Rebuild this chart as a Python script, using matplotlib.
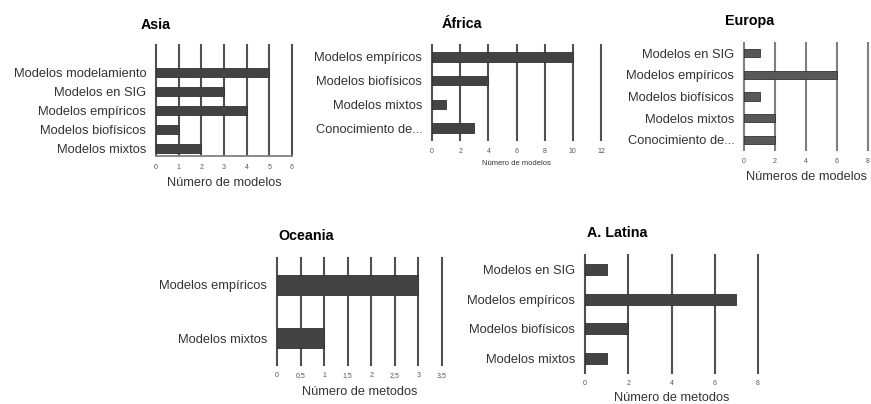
import matplotlib as mpl
import matplotlib.pyplot as plt

mpl.rcParams["font.family"] = ["Liberation Sans", "DejaVu Sans"]

# data
asia_cats = ["Modelos modelamiento", "Modelos en SIG", "Modelos empíricos",
             "Modelos biofísicos", "Modelos mixtos"]
asia_vals = [5, 3, 4, 1, 2]
asia_ticks = [0, 1, 2, 3, 4, 5, 6]

africa_cats = ["Modelos empíricos", "Modelos biofísicos", "Modelos mixtos",
               "Conocimiento de..."]
africa_vals = [10, 4, 1, 3]
africa_ticks = [0, 2, 4, 6, 8, 10, 12]

europa_cats = ["Modelos en SIG", "Modelos empíricos", "Modelos biofísicos",
               "Modelos mixtos", "Conocimiento de..."]
europa_vals = [1, 6, 1, 2, 2]
europa_ticks = [0, 2, 4, 6, 8]

oceania_cats = ["Modelos empíricos", "Modelos mixtos"]
oceania_vals = [3, 1]
oceania_ticks = [0, 0.5, 1, 1.5, 2, 2.5, 3, 3.5]
oceania_ticklabels = ["0", "0,5", "1", "1,5", "2", "2,5", "3", "3,5"]

latina_cats = ["Modelos en SIG", "Modelos empíricos", "Modelos biofísicos",
               "Modelos mixtos"]
latina_vals = [1, 7, 2, 1]
latina_ticks = [0, 2, 4, 6, 8]

W, H = 871, 404
fig = plt.figure(figsize=(W / 100, H / 100), dpi=100)


def panel(box, cats, vals, ticks, ylim, height, xlabel, title, title_xy,
          ticklabels=None, label_top=None, tick_pad=5, xlabel_size=9.2,
          grid_color="#505050", bar_color="#434343", bottom_line=False):
    left, top, right, bottom = box
    ax = fig.add_axes([left / W, 1 - bottom / H, (right - left) / W,
                       (bottom - top) / H])
    ax.barh(range(len(cats)), vals, height=height, color=bar_color,
            edgecolor="#333333", linewidth=0.6, zorder=3)
    ax.set_yticks(range(len(cats)))
    ax.set_yticklabels(cats, fontsize=9.3, color="#333333")
    ax.set_xticks(ticks)
    if ticklabels is not None:
        ax.set_xticklabels(ticklabels)
    ax.set_xlim(ticks[0], ticks[-1])
    ax.set_ylim(*ylim)
    ax.tick_params(axis="y", length=0, pad=7)
    ax.tick_params(axis="x", length=0, pad=tick_pad, labelsize=5,
                   labelcolor="#555555")
    ax.grid(axis="x", color=grid_color, linewidth=1.5, zorder=0)
    ax.set_axisbelow(True)
    # keep the edge gridlines full width
    for gl in ax.get_xgridlines():
        gl.set_clip_on(False)
    for s in ax.spines.values():
        s.set_visible(False)
    if bottom_line:
        ax.spines["bottom"].set_visible(True)
        ax.spines["bottom"].set_color("#8a8a8a")
        ax.spines["bottom"].set_linewidth(1.4)
    ax.set_xlabel(xlabel, fontsize=xlabel_size, color="#333333")
    ax.xaxis.set_label_coords(0.5, -(label_top - bottom) / (bottom - top))
    fig.text(title_xy[0] / W, 1 - title_xy[1] / H, title, ha="center",
             va="center", fontsize=10.3, fontweight="bold")
    return ax


panel((156, 45, 292, 156), asia_cats, asia_vals, asia_ticks,
      (4.42, -1.47), 0.47, "Número de modelos", "Asia", (156, 25),
      label_top=177, tick_pad=6, bottom_line=True)

panel((432, 45, 601, 140), africa_cats, africa_vals, africa_ticks,
      (3.5, -0.5), 0.4, "Número de modelos", "África", (462, 24),
      label_top=160, tick_pad=6, xlabel_size=5.5)

panel((744, 43, 868, 150), europa_cats, europa_vals, europa_ticks,
      (4.46, -0.46), 0.39, "Números de modelos", "Europa", (750, 21),
      label_top=171, tick_pad=6, grid_color="#808080", bar_color="#585858")

panel((277, 258, 442, 365), oceania_cats, oceania_vals, oceania_ticks,
      (1.5, -0.5), 0.37, "Número de metodos", "Oceania", (306, 236),
      ticklabels=oceania_ticklabels, label_top=386, tick_pad=5)

panel((585, 255, 758, 373), latina_cats, latina_vals, latina_ticks,
      (3.5, -0.5), 0.37, "Número de metodos", "A. Latina", (617, 233),
      label_top=392, tick_pad=5)

fig.savefig("out.png", dpi=100)
